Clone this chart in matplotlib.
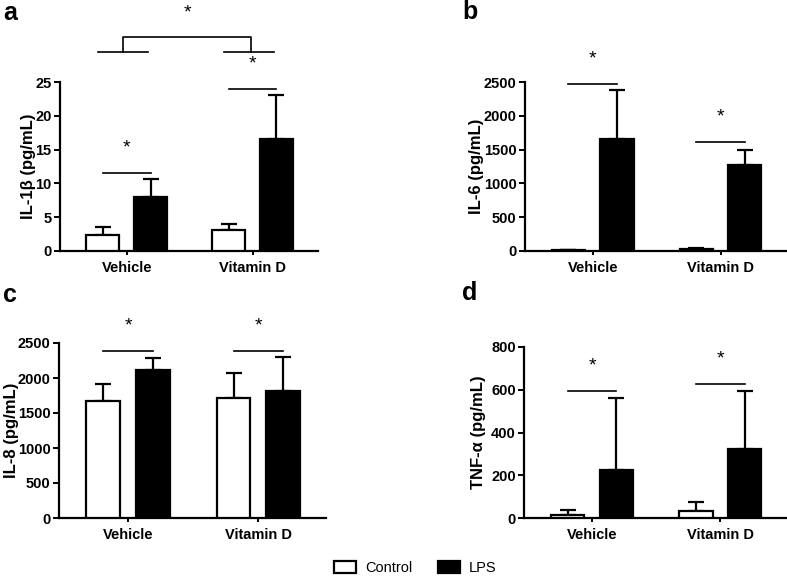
import matplotlib
matplotlib.use("Agg")
import matplotlib.pyplot as plt
import numpy as np
from matplotlib.patches import Patch

plt.rcParams['font.family'] = ['Liberation Sans', 'DejaVu Sans']

groups = ['Vehicle', 'Vitamin D']

# values: mean and upper error (SD)
il1b_ctrl = [2.4, 3.15]
il1b_ctrl_err = [1.2, 0.8]
il1b_lps = [8.0, 16.5]
il1b_lps_err = [2.6, 6.6]

il6_ctrl = [15, 25]
il6_ctrl_err = [5, 15]
il6_lps = [1660, 1265]
il6_lps_err = [715, 235]

il8_ctrl = [1670, 1710]
il8_ctrl_err = [245, 365]
il8_lps = [2120, 1810]
il8_lps_err = [170, 490]

tnf_ctrl = [16, 31]
tnf_ctrl_err = [23, 44]
tnf_lps = [226, 324]
tnf_lps_err = [336, 269]

# height of the significance lines
il1b_sig = [11.5, 23.9]
il6_sig = [2465, 1612]
il8_sig = [2381, 2390]
tnf_sig = [594, 629]

W, H = 787, 578
fig = plt.figure(figsize=(W / 100, H / 100), dpi=100)


def box(l, r, top, bottom):
    return [l / W, 1 - bottom / H, (r - l) / W, (bottom - top) / H]


x = np.arange(len(groups))
bw = 0.26
off = 0.19


def panel(lrtb, ctrl, ctrl_err, lps, lps_err, ymax, step, ylabel, label_x, letter, sig, letter_xy):
    l, r, t, b = lrtb
    ax = fig.add_axes(box(l, r, t, b))
    ax.bar(x - off, ctrl, bw, color='white', edgecolor='black', linewidth=1.6, zorder=3)
    ax.bar(x + off, lps, bw, color='black', edgecolor='black', linewidth=1.6, zorder=3)
    ax.errorbar(x - off, ctrl, yerr=[np.zeros(2), ctrl_err], fmt='none', ecolor='black',
                elinewidth=1.6, capsize=6, capthick=1.6, zorder=2)
    ax.errorbar(x + off, lps, yerr=[np.zeros(2), lps_err], fmt='none', ecolor='black',
                elinewidth=1.6, capsize=6, capthick=1.6, zorder=2)
    ax.set_xlim(-0.53, 1.52)
    ax.set_ylim(0, ymax)
    ax.set_yticks(np.arange(0, ymax + step / 2, step))
    ax.set_xticks(x)
    ax.set_xticklabels(groups, fontsize=10.5, fontweight='bold')
    for tl in ax.get_yticklabels():
        tl.set_fontsize(10.5)
        tl.set_fontweight('bold')
    ax.spines['top'].set_visible(False)
    ax.spines['right'].set_visible(False)
    ax.spines['left'].set_linewidth(1.6)
    ax.spines['bottom'].set_linewidth(1.6)
    ax.tick_params(axis='y', length=4, width=1.4, pad=2)
    ax.tick_params(axis='x', length=3, width=1.4, pad=4)
    ax.set_ylabel(ylabel, fontsize=12, fontweight='bold')
    ax.yaxis.label.set_va('center')
    ax.yaxis.set_label_coords((label_x - l) / (r - l), 0.5)
    for i in range(2):
        ax.plot([x[i] - off, x[i] + off], [sig[i], sig[i]], color='black', lw=1.2, clip_on=False)
        ax.annotate('*', (x[i], sig[i]), xytext=(0, 18), textcoords='offset points',
                    ha='center', va='center', fontsize=14, annotation_clip=False)
    fig.text(letter_xy[0] / W, 1 - letter_xy[1] / H, letter, fontsize=18, fontweight='bold',
             ha='left', va='center')
    return ax


ax_a = panel((60, 318, 82, 251), il1b_ctrl, il1b_ctrl_err, il1b_lps, il1b_lps_err,
             25, 5, 'IL-1β (pg/mL)', 28, 'a', il1b_sig, (3, 13))
ax_b = panel((525, 787, 82, 251), il6_ctrl, il6_ctrl_err, il6_lps, il6_lps_err,
             2500, 500, 'IL-6 (pg/mL)', 476, 'b', il6_sig, (462, 12))
ax_c = panel((59, 326, 343, 518), il8_ctrl, il8_ctrl_err, il8_lps, il8_lps_err,
             2500, 500, 'IL-8 (pg/mL)', 11, 'c', il8_sig, (3, 295))
ax_d = panel((524, 787, 347, 518), tnf_ctrl, tnf_ctrl_err, tnf_lps, tnf_lps_err,
             800, 200, 'TNF-α (pg/mL)', 479, 'd', tnf_sig, (462, 293))

# bracket comparing LPS between treatments in panel a
brk_low, brk_high = 29.4, 31.7
for i in range(2):
    ax_a.plot([x[i] - 0.23, x[i] + 0.17], [brk_low, brk_low], color='black', lw=1.2, clip_on=False)
ax_a.plot([x[0] - 0.03, x[0] - 0.03, x[1] - 0.01, x[1] - 0.01],
          [brk_low, brk_high, brk_high, brk_low], color='black', lw=1.2, clip_on=False)
ax_a.annotate('*', (0.48, brk_high), xytext=(0, 17), textcoords='offset points',
              ha='center', va='center', fontsize=14, annotation_clip=False)

handles = [Patch(facecolor='white', edgecolor='black', linewidth=1.6, label='Control'),
           Patch(facecolor='black', edgecolor='black', linewidth=1.6, label='LPS')]
fig.legend(handles=handles, loc='center', bbox_to_anchor=(0.528, 1 - 568 / H), ncol=2,
           frameon=False, fontsize=10.5, handlelength=1.5, handleheight=0.8,
           columnspacing=1.8, handletextpad=0.6)

fig.savefig('out.png', dpi=100)
